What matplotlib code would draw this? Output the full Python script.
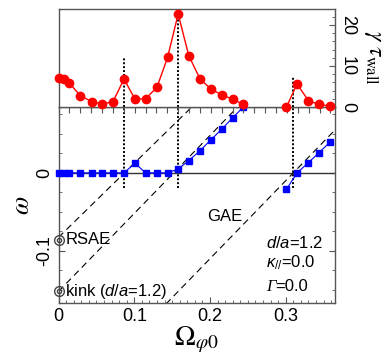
import numpy as np
import matplotlib.pyplot as plt
from matplotlib.ticker import MultipleLocator, NullFormatter

plt.rcParams['font.family'] = ['Liberation Sans', 'DejaVu Sans']
plt.rcParams['mathtext.fontset'] = 'custom'
plt.rcParams['mathtext.rm'] = 'Liberation Sans'
plt.rcParams['mathtext.it'] = 'Liberation Sans:italic'
plt.rcParams['mathtext.sf'] = 'Liberation Sans'
plt.rcParams['axes.unicode_minus'] = False

# rotation frequency grid (two runs, gap in between)
omega_phi = [0.0, 0.007, 0.0144, 0.029, 0.044, 0.058, 0.072, 0.0865, 0.101, 0.115,
             0.13, 0.144, 0.158, 0.172, 0.187, 0.201, 0.216, 0.230, 0.244,
             0.301, 0.315, 0.330, 0.344, 0.359]
gamma_tau = [7.0, 6.8, 5.8, 2.7, 1.3, 0.7, 1.3, 6.8, 1.9, 2.0,
             4.8, 12.1, 22.7, 12.5, 6.8, 4.4, 2.9, 1.9, 0.6,
             0.0, 5.6, 1.5, 0.6, 0.2]
omega_r = [0.0, 0.0, 0.0, 0.0, 0.0, 0.0, 0.0, 0.0, 0.0124, 0.0,
           0.0, 0.0, 0.005, 0.0158, 0.0286, 0.0423, 0.0564, 0.0709, 0.0842,
           -0.021, 0.0, 0.0132, 0.026, 0.040]
split = 19

# resonance positions (vertical dotted lines)
res_x = [0.0865, 0.158, 0.31]
res_top = [12.2, 24.0, 7.6]
res_bot = -0.02

# doppler lines: (slope, zero crossing, start)
dop_lines = [(0.95, 0.087, 0.0), (1.0, 0.152, 0.0), (1.0, 0.31, 0.1)]
mode_names = ["RSAE", "kink ($d/a$=1.2)"]
mode_freq = [-0.086, -0.152]

xmin, xmax = 0.0, 0.365
g_lim = (0, 24)
w_lim = (-0.167, 0.0846)

fig = plt.figure(figsize=(3.85, 3.6), dpi=100)
ax2 = fig.add_axes([0.152, 0.158, 0.718, 0.545])
ax1 = fig.add_axes([0.152, 0.703, 0.718, 0.273])
ax2.patch.set_alpha(0)

spine_c = "#555555"
for ax in (ax1, ax2):
    for s in ax.spines.values():
        s.set_color(spine_c)
        s.set_linewidth(1.0)
    ax.set_xlim(xmin, xmax)

# ---- top panel: growth rate
ax1.plot(omega_phi[:split], gamma_tau[:split], "-o", color="red", ms=6, lw=1.0, clip_on=False, zorder=5)
ax1.plot(omega_phi[split:], gamma_tau[split:], "-o", color="red", ms=6, lw=1.0, clip_on=False, zorder=5)
for x, t in zip(res_x, res_top):
    ax1.plot([x, x], [0, t], color="black", ls=(0, (1, 1)), lw=1.4)
ax1.set_ylim(*g_lim)
ax1.yaxis.tick_right()
ax1.yaxis.set_label_position("right")
ax1.yaxis.set_major_locator(MultipleLocator(10))
ax1.yaxis.set_minor_locator(MultipleLocator(2))
ax1.tick_params(axis="y", which="both", direction="in", right=True, left=False,
                labelsize=13, colors=spine_c, labelcolor="black", pad=3)
ax1.tick_params(axis="y", which="major", length=4)
ax1.tick_params(axis="y", which="minor", length=2.5)
for lab in ax1.get_yticklabels():
    lab.set_rotation(-90)
    lab.set_va("center")
ax1.xaxis.set_major_locator(MultipleLocator(0.01436))
ax1.xaxis.set_major_formatter(NullFormatter())
ax1.tick_params(axis="x", which="both", direction="out", length=4, colors=spine_c, top=False)
ax1.set_ylabel(r"$\gamma\ \tau_{\mathrm{wall}}$", fontsize=17, rotation=-90, labelpad=20,
               math_fontfamily="stix")

# ---- bottom panel: real frequency
ax2.axhline(0, color="#333333", lw=1.0)
xx = np.linspace(xmin, xmax, 200)
for k, x0, st in dop_lines:
    xs = xx[xx >= st]
    ax2.plot(xs, k * (xs - x0), color="black", ls=(0, (6, 4)), lw=0.8)
ax2.plot(omega_phi[:split], omega_r[:split], "-s", color="blue", ms=5, lw=0.8, clip_on=False, zorder=5)
ax2.plot(omega_phi[split:], omega_r[split:], "-s", color="blue", ms=5, lw=0.8, clip_on=False, zorder=5)
for x in res_x:
    ax2.plot([x, x], [res_bot, w_lim[1]], color="black", ls=(0, (1, 1)), lw=1.4)

for name, f in zip(mode_names, mode_freq):
    ax2.plot([0], [f], "o", ms=7, mfc="none", mec="#444444", mew=1.0, clip_on=False, zorder=6)
    ax2.plot([0], [f], "o", ms=3, mfc="none", mec="#444444", mew=1.0, clip_on=False, zorder=6)
    ax2.text(0.009, f, name, fontsize=12, va="center", ha="left")

ax2.text(0.22, -0.056, "GAE", fontsize=12, ha="center", va="center")
ax2.text(0.274, -0.0897, r"$d/a$=1.2", fontsize=12, va="center")
ax2.text(0.274, -0.1154, r"$\kappa_{//}$=0.0", fontsize=12, va="center")
g_txt = ax2.text(0.274, -0.146, "Γ", fontsize=12, va="center",
                 family="Liberation Serif", style="italic")
ax2.annotate("=0.0", xy=(1.0, 0.5), xycoords=g_txt, fontsize=12, va="center", ha="left")

ax2.set_ylim(*w_lim)
ax2.xaxis.set_major_locator(MultipleLocator(0.1))
ax2.xaxis.set_minor_locator(MultipleLocator(0.01))
ax2.yaxis.set_major_locator(MultipleLocator(0.1))
ax2.yaxis.set_minor_locator(MultipleLocator(0.025))
ax2.tick_params(axis="both", which="both", direction="in", colors=spine_c,
                labelcolor="black", labelsize=13, top=False, right=True)
ax2.tick_params(axis="both", which="major", length=4)
ax2.tick_params(axis="both", which="minor", length=2.5)
ax2.xaxis.set_major_formatter(plt.FuncFormatter(lambda v, p: "0" if abs(v) < 1e-9 else "%.1f" % v))
ax2.yaxis.set_major_formatter(plt.FuncFormatter(lambda v, p: "0" if abs(v) < 1e-9 else "%.1f" % v))
for lab in ax2.get_yticklabels():
    lab.set_rotation(90)
    lab.set_va("center")
ax2.set_xlabel(r"$\Omega_{\varphi 0}$", fontsize=20, labelpad=0, math_fontfamily="stix")
ax2.set_ylabel(r"$\omega$", fontsize=19, labelpad=2, math_fontfamily="stix")

fig.savefig("out.png", dpi=100)
